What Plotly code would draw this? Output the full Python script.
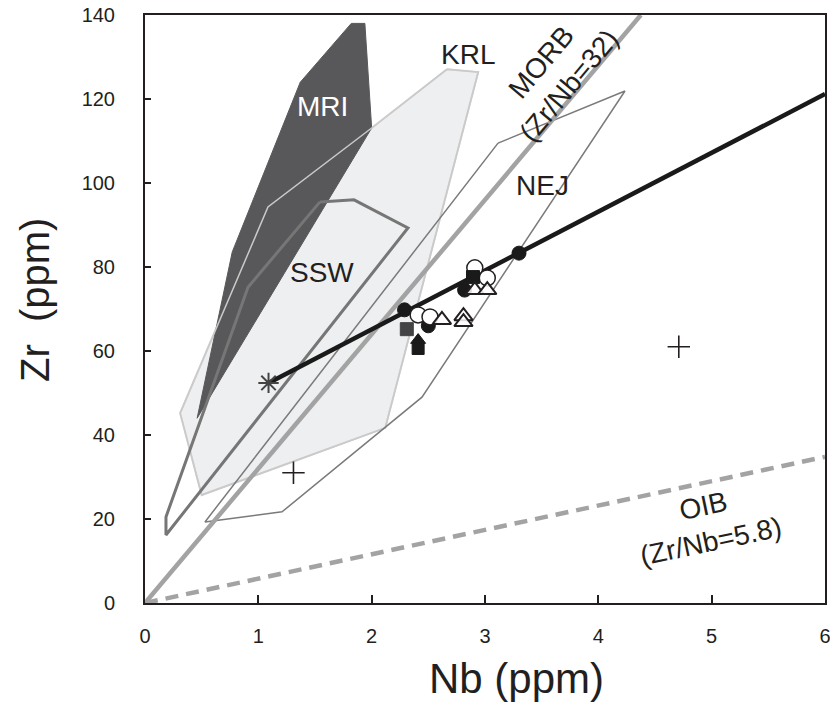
import plotly.graph_objects as go

# ---------------- data ----------------
mri_nb = [0.46, 0.77, 1.37, 1.82, 1.94, 2.00, 0.46]
mri_zr = [44.0, 83.6, 124.0, 138.0, 138.0, 113.1, 44.0]

krl_nb = [2.665, 2.94, 2.12, 0.50, 0.31, 1.085, 2.00, 2.665]
krl_zr = [127.1, 126.4, 41.7, 25.7, 45.2, 94.3, 113.1, 127.1]

ssw_nb = [1.544, 1.844, 2.32, 0.185, 0.185, 0.909, 1.544]
ssw_zr = [95.5, 96.0, 89.3, 16.2, 20.5, 75.2, 95.5]

nej_nb = [3.115, 4.235, 2.444, 1.209, 0.529, 3.115]
nej_zr = [109.5, 121.9, 49.0, 21.7, 19.3, 109.5]

morb_nb = [0, 4.375]
morb_zr = [0, 140]

oib_nb = [0, 6]
oib_zr = [0, 34.8]

trend_nb = [1.09, 6.0]
trend_zr = [52.4, 121.2]

aster_nb = [1.09]
aster_zr = [52.4]

plus_nb = [1.31, 4.71]
plus_zr = [31.0, 61.0]

black_circ_nb = [2.29, 2.82, 2.50, 3.30]
black_circ_zr = [69.8, 74.5, 66.0, 83.3]

open_circ_nb = [2.41, 2.515, 2.91, 3.02]
open_circ_zr = [68.6, 68.1, 79.8, 77.4]

black_sq_nb = [2.894]
black_sq_zr = [77.6]

gray_sq_nb = [2.31]
gray_sq_zr = [65.2]

bell_nb = [2.41]
bell_sq_zr = [60.6]
bell_tri_zr = [62.6]

open_tri_nb = [2.62, 2.91, 3.02, 2.81, 2.81]
open_tri_zr = [67.4, 74.5, 74.5, 68.3, 66.9]

# labels
lab_text = ["MRI", "KRL", "SSW", "NEJ"]
lab_nb = [1.57, 2.85, 1.56, 3.51]
lab_zr = [118.1, 130.5, 78.8, 99.5]
lab_col = ["white", "#231f20", "#231f20", "#231f20"]

x_title = "Nb (ppm)"
y_title = "Zr  (ppm)"

FONT = "Liberation Sans, Arial, Helvetica, sans-serif"
INK = "#231f20"

fig = go.Figure()

# KRL fill
fig.add_trace(go.Scatter(x=krl_nb, y=krl_zr, mode="lines", fill="toself",
                         fillcolor="#eeeff0", line=dict(color="#d2d2d2", width=2),
                         hoverinfo="skip", showlegend=False))
# MRI fill
fig.add_trace(go.Scatter(x=mri_nb, y=mri_zr, mode="lines", fill="toself",
                         fillcolor="#58585a", line=dict(color="#58585a", width=1),
                         hoverinfo="skip", showlegend=False))
# KRL outline over MRI
fig.add_trace(go.Scatter(x=krl_nb, y=krl_zr, mode="lines",
                         line=dict(color="#cacaca", width=1.5),
                         hoverinfo="skip", showlegend=False))
# SSW
fig.add_trace(go.Scatter(x=ssw_nb, y=ssw_zr, mode="lines",
                         line=dict(color="#767676", width=3),
                         hoverinfo="skip", showlegend=False))
# NEJ
fig.add_trace(go.Scatter(x=nej_nb, y=nej_zr, mode="lines",
                         line=dict(color="#7a7a7a", width=1.5),
                         hoverinfo="skip", showlegend=False))
# MORB
fig.add_trace(go.Scatter(x=morb_nb, y=morb_zr, mode="lines",
                         line=dict(color="#a3a3a3", width=4.5),
                         hoverinfo="skip", showlegend=False))
# OIB
fig.add_trace(go.Scatter(x=oib_nb, y=oib_zr, mode="lines",
                         line=dict(color="#a3a3a3", width=4.5, dash="13px,8px"),
                         hoverinfo="skip", showlegend=False))
# trend line
fig.add_trace(go.Scatter(x=trend_nb, y=trend_zr, mode="lines",
                         line=dict(color="#1a1a1a", width=4.5),
                         hoverinfo="skip", showlegend=False))

# markers
fig.add_trace(go.Scatter(x=aster_nb, y=aster_zr, mode="markers",
                         marker=dict(symbol="asterisk-open", size=17, color="#444444",
                                     line=dict(color="#444444", width=2)),
                         showlegend=False))
fig.add_trace(go.Scatter(x=plus_nb, y=plus_zr, mode="markers",
                         marker=dict(symbol="cross-thin-open", size=16, color=INK,
                                     line=dict(color=INK, width=1.6)),
                         showlegend=False))
fig.add_trace(go.Scatter(x=black_circ_nb, y=black_circ_zr, mode="markers",
                         marker=dict(symbol="circle", size=14, color="#1a1a1a",
                                     line=dict(color="#1a1a1a", width=1)),
                         showlegend=False))
fig.add_trace(go.Scatter(x=open_circ_nb, y=open_circ_zr, mode="markers",
                         marker=dict(symbol="circle", size=16, color="white",
                                     line=dict(color=INK, width=1.5)),
                         showlegend=False))
fig.add_trace(go.Scatter(x=black_sq_nb, y=black_sq_zr, mode="markers",
                         marker=dict(symbol="square", size=13, color="#1a1a1a",
                                     line=dict(color="#1a1a1a", width=1)),
                         showlegend=False))
fig.add_trace(go.Scatter(x=gray_sq_nb, y=gray_sq_zr, mode="markers",
                         marker=dict(symbol="square", size=13, color="#444446",
                                     line=dict(color="#444446", width=1)),
                         showlegend=False))
fig.add_trace(go.Scatter(x=bell_nb, y=bell_sq_zr, mode="markers",
                         marker=dict(symbol="square", size=12, color="#1a1a1a",
                                     line=dict(color="#1a1a1a", width=1)),
                         showlegend=False))
fig.add_trace(go.Scatter(x=bell_nb, y=bell_tri_zr, mode="markers",
                         marker=dict(symbol="triangle-up", size=13, color="#1a1a1a",
                                     line=dict(color="#1a1a1a", width=1)),
                         showlegend=False))
fig.add_trace(go.Scatter(x=open_tri_nb, y=open_tri_zr, mode="markers",
                         marker=dict(symbol="triangle-up", size=16, color="rgba(255,255,255,0.85)",
                                     line=dict(color=INK, width=2)),
                         showlegend=False))

annotations = []
for t, x, y, c in zip(lab_text, lab_nb, lab_zr, lab_col):
    annotations.append(dict(x=x, y=y, text=t, showarrow=False,
                            font=dict(family=FONT, size=28, color=c)))
annotations.append(dict(x=3.62, y=126.0, text="MORB<br>(Zr/Nb=32)", showarrow=False,
                        textangle=-50, font=dict(family=FONT, size=28, color=INK)))
annotations.append(dict(x=4.96, y=19.0, text="OIB<br>(Zr/Nb=5.8)", showarrow=False,
                        textangle=-12, font=dict(family=FONT, size=28, color=INK)))
# axis titles
annotations.append(dict(xref="paper", yref="paper", x=0.5456, y=-0.128,
                        xanchor="center", yanchor="middle", text=x_title,
                        showarrow=False, font=dict(family=FONT, size=42, color=INK)))
annotations.append(dict(xref="paper", yref="paper", x=-0.162, y=0.515,
                        xanchor="center", yanchor="middle", text=y_title, textangle=-90,
                        showarrow=False, font=dict(family=FONT, size=40, color=INK)))

axis_common = dict(showgrid=False, zeroline=False, showline=True, mirror=True,
                   linecolor=INK, linewidth=2, ticks="inside", tickcolor=INK,
                   tickwidth=1.5, automargin=False, ticklabeloverflow="allow",
                   tickfont=dict(family=FONT, size=20, color=INK))

fig.update_layout(
    width=830, height=704,
    margin=dict(l=145, r=5, t=15, b=101),
    paper_bgcolor="white", plot_bgcolor="white",
    annotations=annotations,
    xaxis=dict(range=[0, 6], dtick=1, ticklen=8, ticklabelstandoff=14, **axis_common),
    yaxis=dict(range=[0, 140], dtick=20, ticklen=6, ticklabelstandoff=24, **axis_common),
)

fig.write_html("out.html")
